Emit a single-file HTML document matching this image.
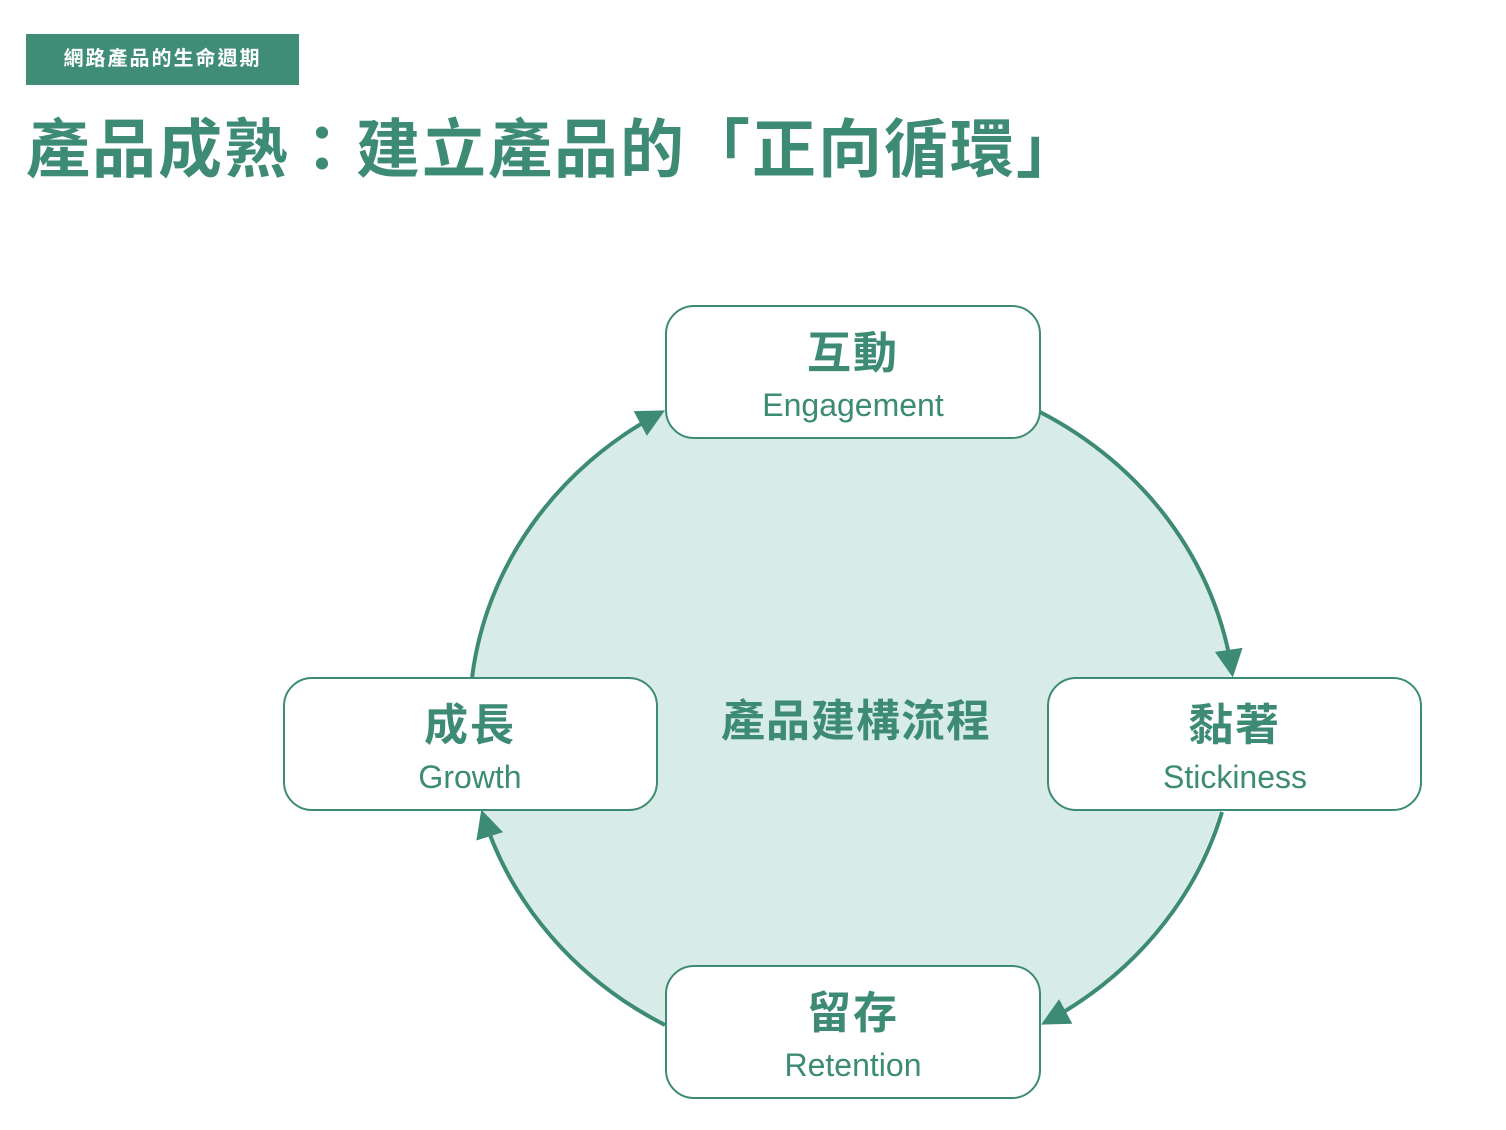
<!DOCTYPE html>
<html><head><meta charset="utf-8"><style>
body{margin:0;width:1506px;height:1130px;background:#fff;overflow:hidden;position:relative;font-family:"Liberation Sans","Noto Sans CJK TC",sans-serif;}
.tag{position:absolute;left:26px;top:34px;width:273px;height:51px;background:#3f8d76;color:#fff;font-size:20px;font-weight:bold;line-height:51px;text-align:center;letter-spacing:2px;}
.title{position:absolute;left:26px;top:108px;font-size:64px;font-weight:bold;color:#3d8b74;line-height:84px;white-space:nowrap;letter-spacing:2px;}
svg{position:absolute;left:0;top:0;}
</style></head><body>
<div class="tag">網路產品的生命週期</div>
<div class="title">產品成熟：建立產品的「正向循環」</div>
<svg width="1506" height="1130" font-family="Liberation Sans, Noto Sans CJK TC, sans-serif">
<defs><marker id="a" viewBox="0 0 10 10" refX="8" refY="5" markerWidth="7" markerHeight="7" orient="auto"><path d="M0,0 L10,5 L0,10 z" fill="#3d8b74"/></marker></defs>
<ellipse cx="851" cy="718" rx="382" ry="352" fill="#d8ece7"/>
<g fill="none" stroke="#3d8b74" stroke-width="4" marker-end="url(#a)">
<path d="M472,678 A382,352 0 0 1 660,413"/>
<path d="M1040,412 A382,352 0 0 1 1232,672"/>
<path d="M1222,812 A382,352 0 0 1 1046,1022"/>
<path d="M665,1025 A382,352 0 0 1 483,815"/>
</g>
<g fill="#fff" stroke="#3d8b74" stroke-width="2">
<rect x="666" y="306" width="374" height="132" rx="28"/>
<rect x="284" y="678" width="373" height="132" rx="28"/>
<rect x="1048" y="678" width="373" height="132" rx="28"/>
<rect x="666" y="966" width="374" height="132" rx="28"/>
</g>
<g fill="#3d8b74" text-anchor="middle">
<text x="853" y="368" font-size="44" font-weight="bold" letter-spacing="2">互動</text>
<text x="853" y="416" font-size="32" letter-spacing="0">Engagement</text>
<text x="470" y="740" font-size="44" font-weight="bold" letter-spacing="2">成長</text>
<text x="470" y="788" font-size="32">Growth</text>
<text x="1235" y="740" font-size="44" font-weight="bold" letter-spacing="2">黏著</text>
<text x="1235" y="788" font-size="32">Stickiness</text>
<text x="853" y="1028" font-size="44" font-weight="bold" letter-spacing="2">留存</text>
<text x="853" y="1076" font-size="32">Retention</text>
<text x="856" y="736" font-size="44" font-weight="bold" letter-spacing="1">產品建構流程</text>
</g>
</svg>
</body></html>
